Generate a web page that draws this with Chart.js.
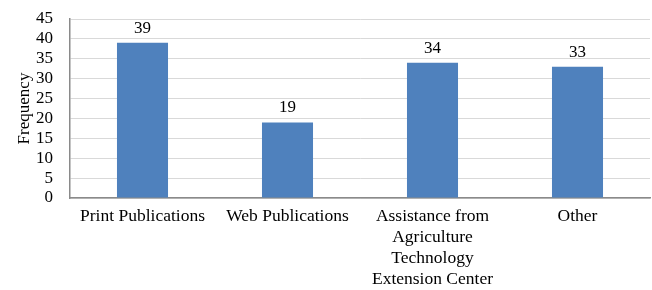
<!DOCTYPE html>
<html>
<head>
<meta charset="utf-8">
<script src="https://cdn.jsdelivr.net/npm/chart.js@4/dist/chart.umd.min.js"></script>
<style>
html,body{margin:0;padding:0;background:#fff;}
#wrap{width:652px;height:290px;position:relative;}
</style>
</head>
<body>
<div id="wrap"><canvas id="c" width="652" height="290"></canvas></div>
<script>
const categories = [
  ["Print Publications"],
  ["Web Publications"],
  ["Assistance from", "Agriculture", "Technology", "Extension Center"],
  ["Other"]
];
const frequency = [39, 19, 34, 33];
const yTicks = [0, 5, 10, 15, 20, 25, 30, 35, 40, 45];
const yTitle = "Frequency";

const FONT = "'Liberation Serif', 'Times New Roman', serif";

const valueLabels = {
  id: 'valueLabels',
  afterDatasetsDraw(chart) {
    const ctx = chart.ctx;
    const meta = chart.getDatasetMeta(0);
    ctx.save();
    ctx.font = "17px " + FONT;
    ctx.fillStyle = "#000";
    ctx.textAlign = "center";
    ctx.textBaseline = "alphabetic";
    meta.data.forEach((bar, i) => {
      ctx.fillText(String(chart.data.datasets[0].data[i]), bar.x, bar.y - 10);
    });
    ctx.restore();
  }
};

new Chart(document.getElementById('c'), {
  type: 'bar',
  data: {
    labels: categories,
    datasets: [{
      data: frequency,
      backgroundColor: '#4F81BD',
      borderWidth: 0,
      barPercentage: 0.352,
      categoryPercentage: 1
    }]
  },
  options: {
    responsive: false,
    animation: false,
    devicePixelRatio: 1,
    layout: { padding: { top: 19, right: 2, bottom: 0, left: 0 } },
    plugins: { legend: { display: false }, tooltip: { enabled: false } },
    scales: {
      x: {
        grid: { display: false, drawTicks: false },
        border: { display: true, color: '#8a8a8a', width: 1.5 },
        ticks: {
          color: '#000',
          font: { family: FONT, size: 17.5, lineHeight: 1.2 },
          padding: 8,
          maxRotation: 0,
          autoSkip: false
        },
        afterFit(scale) { scale.height = 92; }
      },
      y: {
        min: yTicks[0],
        max: yTicks[yTicks.length - 1],
        grid: { color: '#D9D9D9', lineWidth: 1, drawTicks: false },
        border: { display: true, color: '#8a8a8a', width: 1.5 },
        ticks: {
          color: '#000',
          stepSize: yTicks[1] - yTicks[0],
          autoSkip: false,
          font: { family: FONT, size: 17 },
          padding: 17
        },
        title: {
          display: true,
          text: yTitle,
          color: '#000',
          font: { family: FONT, size: 17 },
          padding: { top: 14, bottom: 0 }
        },
        afterFit(scale) {
          scale.width = 70;
          scale.paddingTop = 0;
          scale.paddingBottom = 0;
        }
      }
    }
  },
  plugins: [valueLabels]
});
</script>
</body>
</html>
